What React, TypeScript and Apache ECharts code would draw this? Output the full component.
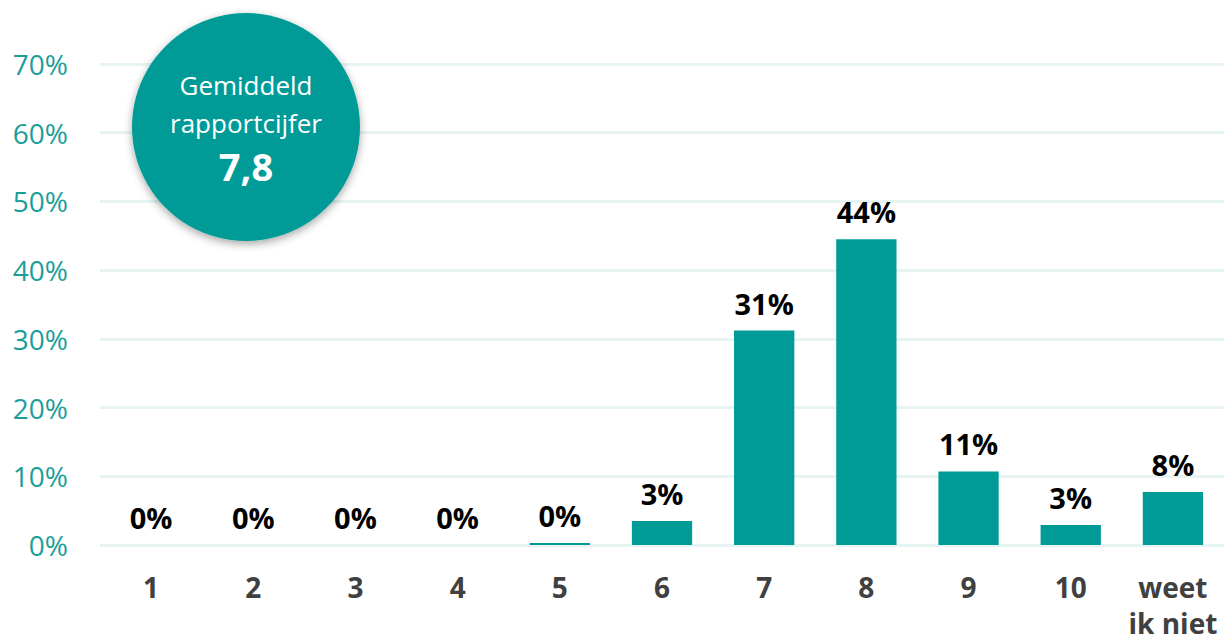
import React, { useEffect, useRef } from "react";
import * as echarts from "echarts";

const categories = ["1", "2", "3", "4", "5", "6", "7", "8", "9", "10", "weet\nik niet"];
const values = [0, 0, 0, 0, 0.3, 3.5, 31.2, 44.5, 10.7, 2.9, 7.7];
const valueLabels = ["0%", "0%", "0%", "0%", "0%", "3%", "31%", "44%", "11%", "3%", "8%"];
const averageTitle = ["Gemiddeld", "rapportcijfer"];
const averageValue = "7,8";

const TEAL = "#009b97";
const FONT = "'Open Sans', 'Noto Sans', sans-serif";

export default function App() {
  const ref = useRef<HTMLDivElement>(null);
  useEffect(() => {
    if (!ref.current) return;
    const chart = echarts.init(ref.current, null, { renderer: "svg" });
    chart.setOption({
      animation: false,
      backgroundColor: "#ffffff",
      grid: { left: 100, right: 0, top: 64, bottom: 94, containLabel: false },
      xAxis: {
        type: "category",
        data: categories,
        axisLine: { show: false },
        axisTick: { show: false },
        axisLabel: {
          color: "#404040",
          fontFamily: FONT,
          fontWeight: "bold",
          fontSize: 28,
          lineHeight: 36,
          margin: 24,
          interval: 0,
        },
      },
      yAxis: {
        type: "value",
        min: 0,
        max: 70,
        interval: 10,
        axisLine: { show: false },
        axisTick: { show: false },
        axisLabel: {
          color: "#1a9e99",
          fontFamily: FONT,
          fontSize: 28,
          margin: 32,
          formatter: (v: number) => v + "%",
        },
        splitLine: { lineStyle: { color: "#e6f4f4", width: 3 } },
      },
      series: [
        {
          type: "bar",
          data: values,
          barWidth: "59%",
          itemStyle: { color: TEAL },
          label: {
            show: true,
            position: "top",
            distance: 13,
            color: "#000000",
            fontFamily: FONT,
            fontWeight: "bold",
            fontSize: 29,
            formatter: (p: any) => valueLabels[p.dataIndex],
          },
        },
      ],
      graphic: [
        {
          type: "circle",
          z: 100,
          zlevel: 1,
          shape: { cx: 246, cy: 127, r: 114 },
          style: {
            fill: TEAL,
            shadowBlur: 8,
            shadowColor: "rgba(0,0,0,0.35)",
            shadowOffsetY: 3,
          },
        },
        {
          type: "text",
          z: 101,
          zlevel: 1,
          x: 246,
          y: 85,
          style: {
            text: averageTitle[0],
            fill: "#ffffff",
            font: `26px ${FONT}`,
            align: "center",
            verticalAlign: "middle",
          },
        },
        {
          type: "text",
          z: 101,
          zlevel: 1,
          x: 246,
          y: 123,
          style: {
            text: averageTitle[1],
            fill: "#ffffff",
            font: `26px ${FONT}`,
            align: "center",
            verticalAlign: "middle",
          },
        },
        {
          type: "text",
          z: 101,
          zlevel: 1,
          x: 246,
          y: 166,
          style: {
            text: averageValue,
            fill: "#ffffff",
            font: `bold 38px ${FONT}`,
            align: "center",
            verticalAlign: "middle",
          },
        },
      ],
    });
    return () => chart.dispose();
  }, []);
  return (
    <div
      ref={ref}
      style={{ position: "fixed", left: 0, top: 0, width: 1224, height: 641 }}
    />
  );
}
